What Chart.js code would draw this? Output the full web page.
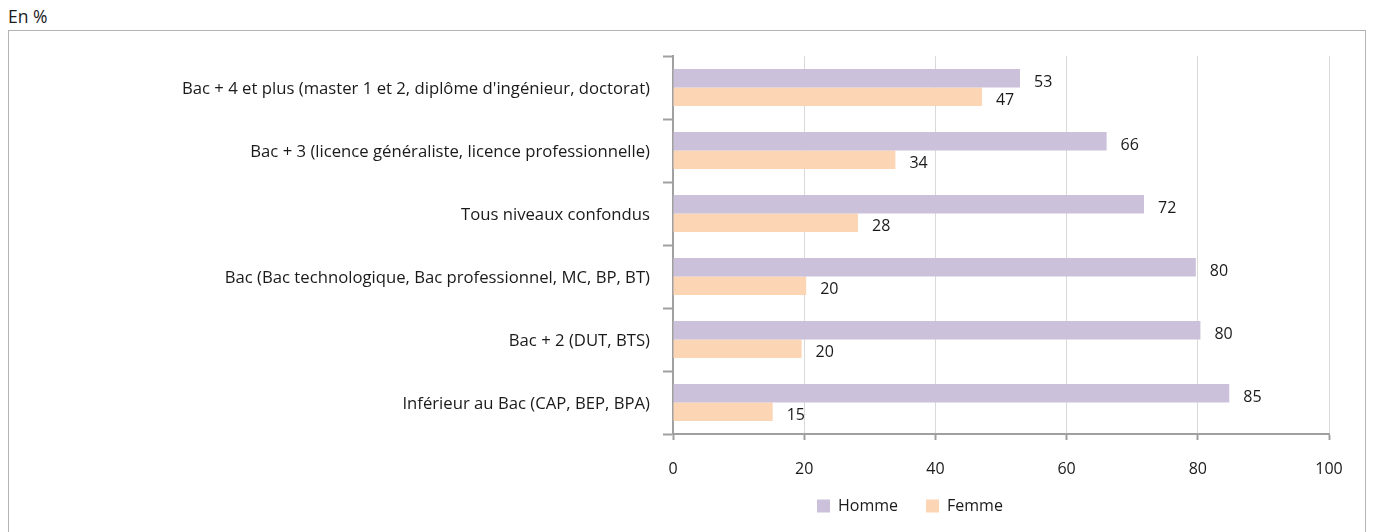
<!DOCTYPE html>
<html>
<head>
<meta charset="utf-8">
<script src="https://cdn.jsdelivr.net/npm/chart.js@4/dist/chart.umd.min.js"></script>
<style>
  html, body { margin: 0; padding: 0; background: #fff; }
  body { width: 1374px; height: 532px; position: relative; overflow: hidden; font-family: "Open Sans", "Noto Sans", sans-serif; }
  #unit { position: absolute; left: 8px; top: 6px; font-size: 17.5px; line-height: 20px; color: #1a1a1a; }
  #box { position: absolute; left: 8px; top: 30px; width: 1356px; height: 510px; border: 1px solid #b4b4b4; }
  #c { position: absolute; left: 0; top: 0; }
</style>
</head>
<body>
<div id="unit">En %</div>
<div id="box"><canvas id="c" width="1356" height="501"></canvas></div>
<script>
const categories = [
  "Bac + 4 et plus (master 1 et 2, diplôme d'ingénieur, doctorat)",
  "Bac + 3 (licence généraliste, licence professionnelle)",
  "Tous niveaux confondus",
  "Bac (Bac technologique, Bac professionnel, MC, BP, BT)",
  "Bac + 2 (DUT, BTS)",
  "Inférieur au Bac (CAP, BEP, BPA)"
];
const seriesNames = ["Homme", "Femme"];
const homme = [52.9, 66.1, 71.8, 79.7, 80.4, 84.8];
const femme = [47.1, 33.9, 28.2, 20.3, 19.6, 15.2];
const xTicks = [0, 20, 40, 60, 80, 100];

const FONT = "'Open Sans', 'Noto Sans', sans-serif";
const TEXT = "#1a1a1a";
const AXIS = "#a0a0a0";

const valueLabels = {
  id: 'valueLabels',
  afterDatasetsDraw(chart) {
    const ctx = chart.ctx;
    ctx.save();
    ctx.font = "16px " + FONT;
    ctx.fillStyle = TEXT;
    ctx.textAlign = 'left';
    ctx.textBaseline = 'middle';
    chart.data.datasets.forEach((ds, di) => {
      const meta = chart.getDatasetMeta(di);
      meta.data.forEach((el, i) => {
        ctx.fillText(String(Math.round(ds.data[i])), el.x + 14, el.y + 4);
      });
    });
    ctx.restore();
  }
};

const legendPlace = {
  id: 'legendPlace',
  afterLayout(chart) {
    const lg = chart.legend;
    if (!lg || !lg.lineWidths) return;
    const pad = lg.options.labels.padding;
    const x0 = (lg.left + pad + lg.right - lg.lineWidths[0]) / 2;
    const dx = 808 - x0;
    lg.left += dx; lg.right += dx;
    const dy = (467 - pad) - lg.top;
    lg.top += dy; lg.bottom += dy;
  }
};

new Chart(document.getElementById('c'), {
  type: 'bar',
  data: {
    labels: categories,
    datasets: [
      { label: seriesNames[0], data: homme, backgroundColor: '#CCC1DA' },
      { label: seriesNames[1], data: femme, backgroundColor: '#FCD5B5' }
    ]
  },
  options: {
    indexAxis: 'y',
    responsive: false,
    animation: false,
    devicePixelRatio: 1,
    categoryPercentage: 0.59,
    barPercentage: 1.0,
    layout: { padding: { top: 25, right: 36, left: 0, bottom: 0 } },
    plugins: {
      tooltip: { enabled: false },
      legend: {
        position: 'bottom',
        labels: {
          font: { family: FONT, size: 16 },
          color: TEXT,
          boxWidth: 13,
          boxHeight: 13,
          padding: 28
        }
      }
    },
    scales: {
      x: {
        min: 0, max: 100,
        afterBuildTicks(scale) { scale.ticks = xTicks.map(v => ({ value: v })); },
        afterFit(scale) { scale.height = 44; },
        grid: { color: '#d9d9d9', lineWidth: 1, tickLength: 6, tickColor: AXIS, tickWidth: 2 },
        border: { color: AXIS, width: 2 },
        ticks: { font: { family: FONT, size: 16 }, color: TEXT, padding: 20 }
      },
      y: {
        afterFit(scale) { scale.width = 664; },
        grid: { display: true, drawOnChartArea: false, offset: true, tickLength: 10, tickColor: AXIS, tickWidth: 2 },
        border: { color: AXIS, width: 2 },
        ticks: { font: { family: FONT, size: 16.7 }, color: TEXT, padding: 13, labelOffset: 2 }
      }
    }
  },
  plugins: [valueLabels, legendPlace]
});
</script>
</body>
</html>
